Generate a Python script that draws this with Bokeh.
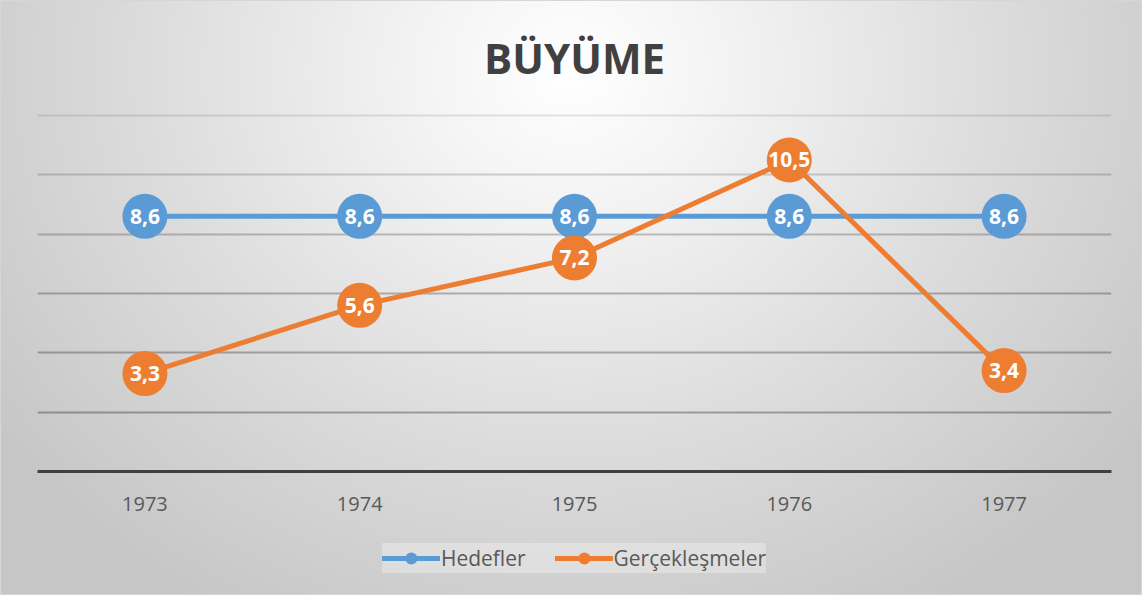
from bokeh.plotting import figure
from bokeh.layouts import column
from bokeh.models import (FactorRange, Range1d, FixedTicker, Grid, Legend,
                          LegendItem, ColumnDataSource)
from bokeh.core.properties import value
from bokeh.embed import file_html
from bokeh.resources import INLINE

# ---- data ----
years = ["1973", "1974", "1975", "1976", "1977"]
hedefler = [8.6, 8.6, 8.6, 8.6, 8.6]
gerceklesmeler = [3.3, 5.6, 7.2, 10.5, 3.4]
series_names = ["Hedefler", "Gerçekleşmeler"]
title_text = "BÜYÜME"
grid_ticks = [2, 4, 6, 8, 10, 12]


def fmt(v):
    return f"{v:.1f}".replace(".", ",")


BLUE = "#5B9BD5"
ORANGE = "#ED7D31"
FONT = "Open Sans"

W = 1142
H_MAIN = 526
H_LEG = 69

x_range = FactorRange(*years)
p = figure(width=W, height=H_MAIN, x_range=x_range, y_range=Range1d(0, 12.1),
           output_backend="svg", toolbar_location=None, y_axis_location=None,
           min_border_left=37, min_border_right=31, min_border_top=112,
           min_border_bottom=H_MAIN - 471)
p.background_fill_color = None
p.border_fill_color = None
p.outline_line_color = None

# title
p.title.text = title_text
p.title.align = "center"
p.title.text_font = FONT
p.title.text_font_size = "42px"
p.title.text_font_style = "bold"
p.title.text_color = "#404040"
p.title.standoff = 53

# grid (fainter toward the top, as in the reference)
p.xgrid.visible = False
p.ygrid.visible = False
grid_alphas = [0.30, 0.28, 0.26, 0.22, 0.17, 0.10]
for t, a in zip(grid_ticks, grid_alphas):
    p.add_layout(Grid(dimension=1, ticker=FixedTicker(ticks=[t]),
                      grid_line_color="black", grid_line_alpha=a,
                      grid_line_width=2), "center")

# x axis
ax = p.xaxis[0]
ax.axis_line_color = "#404040"
ax.axis_line_width = 3
ax.major_tick_line_color = None
ax.minor_tick_line_color = None
ax.major_label_text_font = FONT
ax.major_label_text_font_size = "20px"
ax.major_label_text_color = "#595959"
ax.major_label_standoff = 19

src_h = ColumnDataSource(dict(x=years, y=hedefler, t=[fmt(v) for v in hedefler]))
src_g = ColumnDataSource(dict(x=years, y=gerceklesmeler, t=[fmt(v) for v in gerceklesmeler]))

p.line("x", "y", source=src_h, line_color=BLUE, line_width=5)
p.scatter("x", "y", source=src_h, size=45, fill_color=BLUE, line_color=None)
p.line("x", "y", source=src_g, line_color=ORANGE, line_width=5)
p.scatter("x", "y", source=src_g, size=45, fill_color=ORANGE, line_color=None)

for s in (src_h, src_g):
    p.text("x", "y", text="t", source=s, text_color="white",
           text_font=value(FONT), text_font_size="21px", text_font_style="bold",
           text_align="center", text_baseline="middle")

# ---- legend strip (same series, drawn out of view; only its legend is shown) ----
pl = figure(width=W, height=H_LEG, x_range=x_range, y_range=Range1d(100, 101),
            output_backend="svg", toolbar_location=None,
            x_axis_location=None, y_axis_location=None,
            min_border_left=37, min_border_right=31, min_border_top=0,
            min_border_bottom=6)
pl.background_fill_color = None
pl.border_fill_color = None
pl.outline_line_color = None
pl.xgrid.visible = False
pl.ygrid.visible = False

ll1 = pl.line("x", "y", source=src_h, line_color=BLUE, line_width=5, line_cap="round")
lc1 = pl.scatter("x", "y", source=src_h, size=44, fill_color=BLUE, line_color=None)
ll2 = pl.line("x", "y", source=src_g, line_color=ORANGE, line_width=5, line_cap="round")
lc2 = pl.scatter("x", "y", source=src_g, size=44, fill_color=ORANGE, line_color=None)

legend = Legend(items=[LegendItem(label=series_names[0], renderers=[ll1, lc1]),
                       LegendItem(label=series_names[1], renderers=[ll2, lc2])],
                orientation="horizontal", location="center",
                label_text_font=FONT, label_text_font_size="21px",
                label_text_color="#595959",
                glyph_width=58, glyph_height=30, label_height=25,
                label_standoff=1, spacing=29, padding=8, margin=0,
                background_fill_color="white", background_fill_alpha=0.3,
                border_line_color=None)
pl.add_layout(legend, "center")

layout = column(p, pl, spacing=0, styles={
    "background": "radial-gradient(ellipse 62% 105% at 50% 12%, #ffffff 0%, #f3f3f3 22%, #dcdcdc 60%, #c6c6c6 100%)",
    "outline": "1px solid #d6d6d6",
    "outline-offset": "-1px",
})

open("out.html", "w").write(file_html(layout, INLINE))
